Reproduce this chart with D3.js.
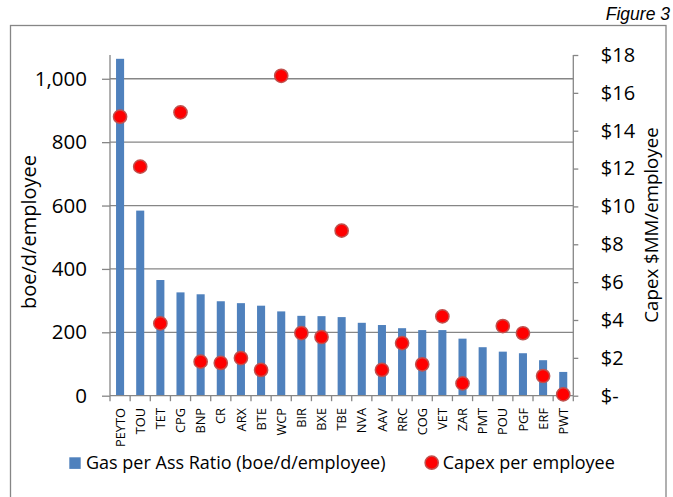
<!DOCTYPE html>
<html>
<head>
<meta charset="utf-8">
<script src="https://cdn.jsdelivr.net/npm/d3@7"></script>
<style>
  html, body { margin: 0; padding: 0; background: #fff; }
  svg { display: block; }
  text { font-family: "Open Sans", sans-serif; fill: #000; }
</style>
</head>
<body>
<svg id="chart" width="673" height="497"></svg>
<script>
const categories = ["PEYTO","TOU","TET","CPG","BNP","CR","ARX","BTE","WCP","BIR","BXE","TBE","NVA","AAV","RRC","COG","VET","ZAR","PMT","POU","PGF","ERF","PWT"];
const gasRatio = [1063, 584, 365, 326, 320, 298, 292, 284, 266, 252, 251, 248, 230, 223, 213, 207, 207, 180, 153, 139, 134, 112, 75];
const capexPerEmployee = [14.74, 12.1, 3.82, 14.97, 1.80, 1.73, 1.99, 1.36, 16.9, 3.31, 3.10, 8.72, null, 1.36, 2.78, 1.66, 4.19, 0.65, null, 3.68, 3.30, 1.04, 0.07];
const leftTicks = [0, 200, 400, 600, 800, 1000];
const rightTicks = [0, 2, 4, 6, 8, 10, 12, 14, 16, 18];
const seriesNames = ["Gas per Ass Ratio (boe/d/employee)", "Capex per employee"];
const leftTitle = "boe/d/employee";
const rightTitle = "Capex $MM/employee";
const figureLabel = "Figure 3";

const svg = d3.select("#chart");
const grey = "#868686";
const blue = "#4f81bd";
const red = "#ff0000";

const plot = { left: 110, right: 573.3, top: 55, bottom: 395.7 };

// outer frame
svg.append("rect")
  .attr("x", 10.5).attr("y", 25.5).attr("width", 655.5).attr("height", 480)
  .attr("fill", "none").attr("stroke", grey).attr("stroke-width", 1.3);

svg.append("text")
  .attr("x", 670).attr("y", 19.5)
  .attr("text-anchor", "end")
  .style("font-family", "'Liberation Sans', Arial, sans-serif")
  .style("font-style", "italic")
  .style("font-size", "17.5px")
  .text(figureLabel);

const x = d3.scaleBand().domain(categories)
  .range([plot.left, plot.right]).paddingInner(0.6).paddingOuter(0.3);
const yL = d3.scaleLinear().domain([0, 1075]).range([plot.bottom, plot.top]);
const yR = d3.scaleLinear().domain([0, 18]).range([plot.bottom, plot.top]);

// gridlines
svg.append("g").selectAll("line").data(leftTicks.filter(d => d > 0)).join("line")
  .attr("x1", plot.left).attr("x2", plot.right)
  .attr("y1", d => yL(d)).attr("y2", d => yL(d))
  .attr("stroke", grey).attr("stroke-width", 1.3);

// bars
svg.append("g").selectAll("rect").data(categories).join("rect")
  .attr("x", d => x(d))
  .attr("width", x.bandwidth())
  .attr("y", (d, i) => yL(gasRatio[i]))
  .attr("height", (d, i) => yL(0) - yL(gasRatio[i]))
  .attr("fill", blue);

// left axis
const leftAxis = d3.axisLeft(yL).tickValues(leftTicks).tickFormat(d3.format(",")).tickSize(8).tickSizeOuter(0);
const gl = svg.append("g").attr("transform", `translate(${plot.left},0)`).call(leftAxis);
gl.select(".domain").remove();
gl.append("line").attr("x1", 0).attr("x2", 0).attr("y1", plot.top).attr("y2", plot.bottom)
  .attr("stroke", grey).attr("stroke-width", 1.3);
gl.selectAll(".tick line").attr("stroke", grey).attr("stroke-width", 1.3);
gl.selectAll(".tick text").attr("x", -23).style("font-size", "20.5px").style("font-family", "'Open Sans', sans-serif").attr("fill", "#000");

// right axis
const rightAxis = d3.axisRight(yR).tickValues(rightTicks)
  .tickFormat(d => d === 0 ? "$-" : "$" + d).tickSize(5).tickSizeOuter(0);
const gr = svg.append("g").attr("transform", `translate(${plot.right},0)`).call(rightAxis);
gr.select(".domain").remove();
gr.append("line").attr("x1", 0).attr("x2", 0).attr("y1", plot.top).attr("y2", plot.bottom)
  .attr("stroke", grey).attr("stroke-width", 1.3);
gr.selectAll(".tick line").attr("stroke", grey).attr("stroke-width", 1.3);
gr.selectAll(".tick text").attr("x", 27.5).style("font-size", "20px").style("font-family", "'Open Sans', sans-serif").attr("fill", "#000");

// x axis
const gx = svg.append("g");
gx.append("line").attr("x1", plot.left).attr("x2", plot.right)
  .attr("y1", plot.bottom).attr("y2", plot.bottom)
  .attr("stroke", grey).attr("stroke-width", 1.3);
const boundaries = categories.map(c => x(c) - x.step() * x.paddingInner() / 2).concat([plot.right]);
gx.selectAll("line.xt").data(boundaries).join("line").attr("class", "xt")
  .attr("x1", d => d).attr("x2", d => d)
  .attr("y1", plot.bottom).attr("y2", plot.bottom + 5.5)
  .attr("stroke", grey).attr("stroke-width", 1.3);
gx.selectAll("text").data(categories).join("text")
  .attr("transform", d => `translate(${x(d) + x.bandwidth() / 2},408) rotate(-90)`)
  .attr("text-anchor", "end")
  .attr("dy", "0.36em")
  .style("font-size", "12.8px")
  .text(d => d);

// dots
svg.append("g").selectAll("circle")
  .data(categories.map((c, i) => ({ c, v: capexPerEmployee[i] })).filter(d => d.v !== null))
  .join("circle")
  .attr("cx", d => x(d.c) + x.bandwidth() / 2)
  .attr("cy", d => yR(d.v))
  .attr("r", 6.6)
  .attr("fill", red)
  .attr("stroke", "#c0504d")
  .attr("stroke-width", 1.5);

// axis titles
svg.append("text")
  .attr("transform", `translate(29,232) rotate(-90)`)
  .attr("text-anchor", "middle").attr("dy", "0.36em")
  .style("font-size", "20px")
  .text(leftTitle);
svg.append("text")
  .attr("transform", `translate(651,225) rotate(-90)`)
  .attr("text-anchor", "middle").attr("dy", "0.36em")
  .style("font-size", "18.7px")
  .text(rightTitle);

// legend
const lg = svg.append("g");
lg.append("rect").attr("x", 69.3).attr("y", 457.3).attr("width", 11.4).attr("height", 11.6).attr("fill", blue);
lg.append("text").attr("x", 86).attr("y", 468.5).style("font-size", "18px").text(seriesNames[0]);
lg.append("circle").attr("cx", 431.7).attr("cy", 462.7).attr("r", 6.6)
  .attr("fill", red).attr("stroke", "#c0504d").attr("stroke-width", 1.5);
lg.append("text").attr("x", 442.7).attr("y", 468.5).style("font-size", "18px").text(seriesNames[1]);
</script>
</body>
</html>
